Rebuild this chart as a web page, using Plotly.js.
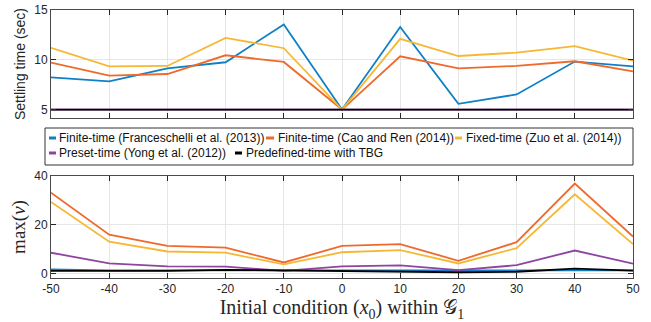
<!DOCTYPE html>
<html><head><meta charset="utf-8">
<script src="https://cdn.plot.ly/plotly-3.0.1.min.js"></script>
<style>body{margin:0;padding:0;background:#fff}#plot{width:651px;height:322px}</style>
</head><body><div id="plot"></div>
<script>
// ---- data ----
const x0 = [-50,-40,-30,-20,-10,0,10,20,30,40,50];
const names = ["Finite-time (Franceschelli et al. (2013))","Finite-time (Cao and Ren (2014))","Fixed-time (Zuo et al. (2014))","Preset-time (Yong et al. (2012))","Predefined-time with TBG"];
const colors = ["#0f80c6","#ee6a2c","#f6b834","#8e44a0","#000000"];
// settling time (sec)
const tsFranceschelli = [8.23,7.83,9.14,9.75,13.55,5.0,13.3,5.57,6.52,9.82,9.34];
const tsCaoRen       = [9.72,8.40,8.57,10.45,9.78,5.0,10.35,9.14,9.38,9.85,8.84];
const tsZuo          = [11.19,9.34,9.38,12.2,11.16,5.0,12.1,10.38,10.72,11.36,9.92];
const tsYong         = [5,5,5,5,5,5,5,5,5,5,5];
const tsTBG          = [5,5,5,5,5,5,5,5,5,5,5];
// max(v)
const mvFranceschelli = [1.8,1.4,1.4,1.4,1.2,1.3,1.3,1.4,1.5,1.5,1.4];
const mvCaoRen        = [33.2,16.0,11.4,10.7,4.6,11.4,12.1,5.3,12.9,36.9,15.2];
const mvZuo           = [29.4,13.1,9.1,8.6,3.8,8.8,9.7,4.2,10.5,32.5,12.1];
const mvYong          = [8.6,4.2,3.0,2.9,1.2,3.0,3.4,1.5,3.5,9.5,4.1];
const mvTBG           = [1.2,1.2,1.2,1.6,1.4,1.1,1.1,0.6,0.8,2.1,1.3];
const xTicks = [-50,-40,-30,-20,-10,0,10,20,30,40,50];
const xTickLabels = ["-50","-40","-30","-20","-10","0","10","20","30","40","50"];
const tsTicks = [5,10,15];
const mvTicks = [0,20,40];

const tsAll = [tsFranceschelli,tsCaoRen,tsZuo,tsYong,tsTBG];
const mvAll = [mvFranceschelli,mvCaoRen,mvZuo,mvYong,mvTBG];

const traces = [];
tsAll.forEach((ys,i)=>traces.push({x:x0,y:ys,type:'scatter',mode:'lines',xaxis:'x',yaxis:'y',
  line:{color:colors[i],width:1.8},name:names[i],showlegend:false,hoverinfo:'skip'}));
mvAll.forEach((ys,i)=>traces.push({x:x0,y:ys,type:'scatter',mode:'lines',xaxis:'x2',yaxis:'y2',
  line:{color:colors[i],width:1.8},name:names[i],showlegend:false,hoverinfo:'skip'}));

// layout geometry
const W=651,H=322,L=51,R=18,T=10,B=44;
const pw=W-L-R, ph=H-T-B;
const px=(p)=>(p-L)/pw;
const py=(p)=>(H-B-p)/ph;

const axBase = {showline:true,mirror:'ticks',linecolor:'#4a4a4a',linewidth:1,ticks:'inside',ticklen:5,
  tickcolor:'#262626',showgrid:true,gridcolor:'#e6e6e6',gridwidth:1,zeroline:false,
  tickfont:{family:'Liberation Sans, Arial, sans-serif',size:12,color:'#262626'}};

const legendRows = [
  {y:138, items:[{sw:[49,56],tx:57,i:0},{sw:[266,274],tx:276,i:1},{sw:[455,462],tx:464,i:2}]},
  {y:153, items:[{sw:[49,56],tx:57,i:3},{sw:[235,242],tx:244,i:4}]}
];
const shapes=[{type:'rect',xref:'paper',yref:'paper',x0:px(45),x1:px(633),y0:py(128),y1:py(165),
  line:{color:'#333',width:1},fillcolor:'#fff',layer:'above'}];
const annotations=[];
legendRows.forEach(r=>r.items.forEach(it=>{
  shapes.push({type:'line',xref:'paper',yref:'paper',x0:px(it.sw[0]),x1:px(it.sw[1]),y0:py(r.y),y1:py(r.y),
    line:{color:colors[it.i],width:3},layer:'above'});
  annotations.push({xref:'paper',yref:'paper',x:px(it.tx),y:py(r.y),xanchor:'left',yanchor:'middle',
    text:names[it.i],showarrow:false,font:{family:'Liberation Sans, Arial, sans-serif',size:12,color:'#111'}});
}));

const layout = {
  width:W,height:H,margin:{l:L,r:R,t:T,b:B},paper_bgcolor:'#fff',plot_bgcolor:'#fff',showlegend:false,
  xaxis:Object.assign({},axBase,{domain:[0,1],range:[-50,50],tickvals:xTicks,showticklabels:false,anchor:'y'}),
  yaxis:Object.assign({},axBase,{domain:[py(118),1],range:[4.15,15],tickvals:tsTicks,anchor:'x',
    title:{text:'Settling time (sec)',font:{family:'Liberation Sans, Arial, sans-serif',size:14,color:'#262626'},standoff:5}}),
  xaxis2:Object.assign({},axBase,{domain:[0,1],range:[-50,50],tickvals:xTicks,ticktext:xTickLabels,anchor:'y2',
    title:{text:'Initial condition (<i>x</i><sub>0</sub>) within 𝒢<sub>1</sub>',font:{family:'Liberation Serif, DejaVu Serif, serif',size:20,color:'#262626'},standoff:2}}),
  yaxis2:Object.assign({},axBase,{domain:[0,py(176)],range:[-1.75,40],tickvals:mvTicks,anchor:'x2',
    title:{text:'max(<i>v</i>)',font:{family:'Liberation Serif, DejaVu Serif, serif',size:19,color:'#262626'},standoff:3}}),
  shapes:shapes,annotations:annotations
};
Plotly.newPlot('plot',traces,layout,{displayModeBar:false,staticPlot:true});
</script></body></html>
